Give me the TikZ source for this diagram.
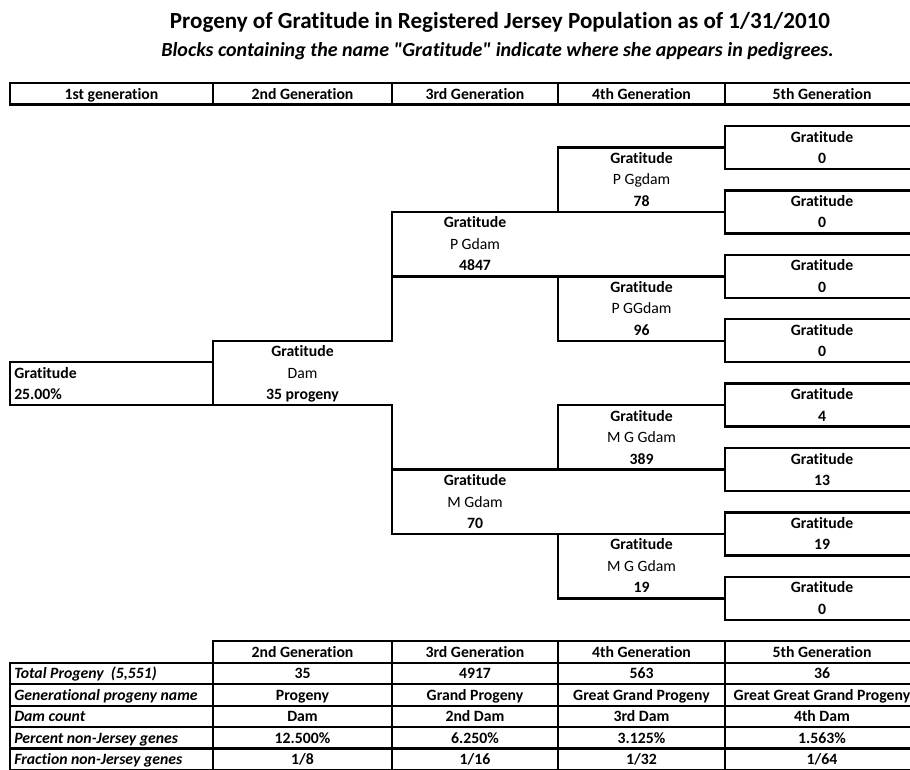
\documentclass[tikz,border=0pt]{standalone}
\usepackage{fontspec}
\setmainfont{Carlito}[Ligatures={TeXOff,NoCommon}]
\def\rh{21.47}
\def\rz{126}
\newcommand\Y[1]{{\rz+\rh*(#1)}}
\newcommand\cc[4]{\node[txt,anchor=base] (#1) at (#2,{\rz+\rh*(#3+0.5)+5.3}) {#4};}
\newcommand\cl[4]{\node[txt,anchor=base west] (#1) at (#2,{\rz+\rh*(#3+0.5)+5.3}) {#4};}
\begin{document}
\begin{tikzpicture}[x=0.75pt,y=-0.75pt,
  ln/.style={line width=1.8pt,line cap=rect,black},
  txt/.style={inner sep=0pt,font=\fontsize{11.8}{14}\selectfont\bfseries},
  reg/.style={font=\fontsize{11.8}{14}\selectfont},
  bi/.style={font=\fontsize{11.8}{14}\selectfont\bfseries\itshape}]
\useasboundingbox (0,0) rectangle (910,769);
\clip (0,0) rectangle (910,769);
% titles
\node[inner sep=0pt,font=\fontsize{17.3}{20}\selectfont\bfseries] (title) at (500,22.5) {Progeny of Gratitude in Registered Jersey Population as of 1/31/2010};
\node[inner sep=0pt,font=\fontsize{15}{18}\selectfont\bfseries\itshape] (subtitle) at (497.5,51.5) {Blocks containing the name "Gratitude" indicate where she appears in pedigrees.};
% header row
\draw[ln] (10,\Y{-2}) -- (919,\Y{-2}) (10,\Y{-1}) -- (919,\Y{-1});
\foreach \x in {10,213,392,558,725} \draw[ln] (\x,\Y{-2}) -- (\x,\Y{-1});
\cc{h1}{111.5}{-2}{1st generation}
\cc{h2}{302.5}{-2}{2nd Generation}
\cc{h3}{475}{-2}{3rd Generation}
\cc{h4}{641.5}{-2}{4th Generation}
\cc{h5}{822}{-2}{5th Generation}
% ---------- tree ----------
% generation 1
\draw[ln] (10,\Y{11}) -- (213,\Y{11}) (10,\Y{11}) -- (10,\Y{13});
\cl{g1a}{14}{11}{Gratitude}
\cl{g1b}{14}{12}{25.00\%}
% generation 2
\draw[ln] (213,\Y{10}) -- (392,\Y{10}) (213,\Y{10}) -- (213,\Y{13}) (10,\Y{13}) -- (392,\Y{13});
\cc{g2a}{302.5}{10}{Gratitude}
\cc{g2b}{302.5}{11}{\normalfont\fontsize{11.8}{14}\selectfont Dam}
\cc{g2c}{302.5}{12}{35 progeny}
% generation 3
\draw[ln] (392,\Y{4}) -- (392,\Y{10}) (392,\Y{13}) -- (392,\Y{19});
\draw[ln] (392,\Y{4}) -- (725,\Y{4}) (392,\Y{7}) -- (725,\Y{7});
\draw[ln] (392,\Y{16}) -- (725,\Y{16}) (392,\Y{19}) -- (725,\Y{19});
\cc{g3a}{475}{4}{Gratitude}
\cc{g3b}{475}{5}{\normalfont\fontsize{11.8}{14}\selectfont P Gdam}
\cc{g3c}{475}{6}{4847}
\cc{g3d}{475}{16}{Gratitude}
\cc{g3e}{475}{17}{\normalfont\fontsize{11.8}{14}\selectfont M Gdam}
\cc{g3f}{475}{18}{70}
% generation 4
\draw[ln] (558,\Y{1}) -- (725,\Y{1}) (558,\Y{1}) -- (558,\Y{4});
\draw[ln] (558,\Y{7}) -- (558,\Y{10}) (558,\Y{10}) -- (725,\Y{10});
\draw[ln] (558,\Y{13}) -- (725,\Y{13}) (558,\Y{13}) -- (558,\Y{16});
\draw[ln] (558,\Y{19}) -- (558,\Y{22}) (558,\Y{22}) -- (725,\Y{22});
\cc{g4a}{641.5}{1}{Gratitude}
\cc{g4b}{641.5}{2}{\normalfont\fontsize{11.8}{14}\selectfont P Ggdam}
\cc{g4c}{641.5}{3}{78}
\cc{g4d}{641.5}{7}{Gratitude}
\cc{g4e}{641.5}{8}{\normalfont\fontsize{11.8}{14}\selectfont P GGdam}
\cc{g4f}{641.5}{9}{96}
\cc{g4g}{641.5}{13}{Gratitude}
\cc{g4h}{641.5}{14}{\normalfont\fontsize{11.8}{14}\selectfont M G Gdam}
\cc{g4i}{641.5}{15}{389}
\cc{g4j}{641.5}{19}{Gratitude}
\cc{g4k}{641.5}{20}{\normalfont\fontsize{11.8}{14}\selectfont M G Gdam}
\cc{g4l}{641.5}{21}{19}
% generation 5
\foreach \j/\v in {0/0,1/0,2/0,3/0,4/4,5/13,6/19,7/0} {
  \draw[ln] (919,{\rz+\rh*(3*\j)}) -- (725,{\rz+\rh*(3*\j)}) -- (725,{\rz+\rh*(3*\j+2)}) -- (919,{\rz+\rh*(3*\j+2)});
  \node[txt,anchor=base] (g5n\j) at (822,{\rz+\rh*(3*\j+0.5)+5.3}) {Gratitude};
  \node[txt,anchor=base] (g5v\j) at (822,{\rz+\rh*(3*\j+1.5)+5.3}) {\v};
}
% ---------- summary table ----------
\draw[ln] (213,\Y{24}) -- (919,\Y{24});
\foreach \k in {25,...,30} \draw[ln] (10,\Y{\k}) -- (919,\Y{\k});
\draw[ln] (10,\Y{25}) -- (10,\Y{30});
\foreach \x in {213,392,558,725} \draw[ln] (\x,\Y{24}) -- (\x,\Y{30});
\cc{t0b}{302.5}{24}{2nd Generation}
\cc{t0c}{475}{24}{3rd Generation}
\cc{t0d}{641.5}{24}{4th Generation}
\cc{t0e}{822}{24}{5th Generation}
\cl{t1a}{14}{25}{\itshape Total Progeny\ \ (5,551)}
\cc{t1b}{302.5}{25}{35}
\cc{t1c}{475}{25}{4917}
\cc{t1d}{641.5}{25}{563}
\cc{t1e}{822}{25}{36}
\cl{t2a}{14}{26}{\itshape Generational progeny name}
\cc{t2b}{302.5}{26}{Progeny}
\cc{t2c}{475}{26}{Grand Progeny}
\cc{t2d}{641.5}{26}{Great Grand Progeny}
\cc{t2e}{822}{26}{Great Great Grand Progeny}
\cl{t3a}{14}{27}{\itshape Dam count}
\cc{t3b}{302.5}{27}{Dam}
\cc{t3c}{475}{27}{2nd Dam}
\cc{t3d}{641.5}{27}{3rd Dam}
\cc{t3e}{822}{27}{4th Dam}
\cl{t4a}{14}{28}{\itshape Percent non-Jersey genes}
\cc{t4b}{302.5}{28}{12.500\%}
\cc{t4c}{475}{28}{6.250\%}
\cc{t4d}{641.5}{28}{3.125\%}
\cc{t4e}{822}{28}{1.563\%}
\cl{t5a}{14}{29}{\itshape Fraction non-Jersey genes}
\cc{t5b}{302.5}{29}{1/8}
\cc{t5c}{475}{29}{1/16}
\cc{t5d}{641.5}{29}{1/32}
\cc{t5e}{822}{29}{1/64}
\end{tikzpicture}
\end{document}
